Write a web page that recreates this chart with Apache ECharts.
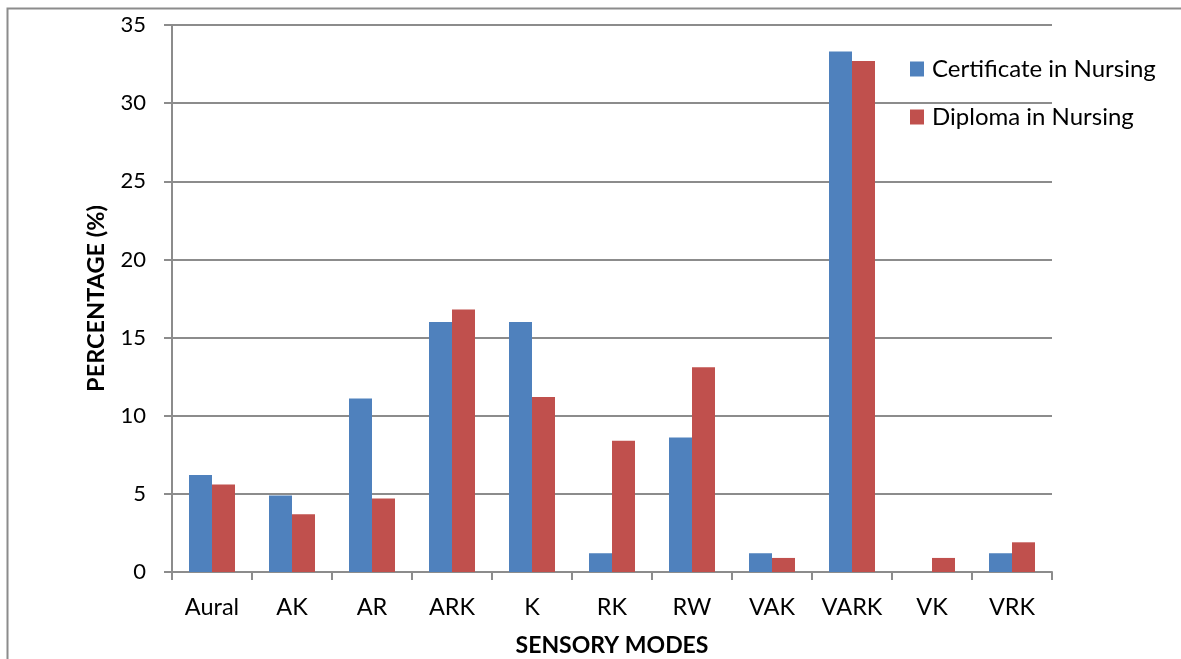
<!DOCTYPE html>
<html>
<head>
<meta charset="utf-8">
<script src="https://cdn.jsdelivr.net/npm/echarts@6/dist/echarts.min.js"></script>
<style>
  html, body { margin: 0; padding: 0; background: #fff; }
  #chart { width: 1181px; height: 659px; }
</style>
</head>
<body>
<div id="chart"></div>
<script>
// Learning-style preferences by programme
const categories = ['Aural', 'AK', 'AR', 'ARK', 'K', 'RK', 'RW', 'VAK', 'VARK', 'VK', 'VRK'];
const certificateValues = [6.2, 4.9, 11.1, 16.0, 16.0, 1.2, 8.6, 1.2, 33.3, 0, 1.2];
const diplomaValues = [5.6, 3.7, 4.7, 16.8, 11.2, 8.4, 13.1, 0.9, 32.7, 0.9, 1.9];
const seriesNames = ['Certificate in Nursing', 'Diploma in Nursing'];
const yTicks = { min: 0, max: 35, interval: 5 };

const FONT = 'Lato, "Open Sans", sans-serif';
const GRID_COLOR = '#8c8c8c';

const chart = echarts.init(document.getElementById('chart'), null, { renderer: 'canvas' });

chart.setOption({
  animation: false,
  backgroundColor: '#ffffff',
  graphic: [{
    type: 'rect',
    shape: { x: 7.5, y: 8.5, width: 1200, height: 700 },
    style: { fill: 'none', stroke: '#8c8c8c', lineWidth: 2 },
    silent: true
  }],
  grid: { left: 172, right: 129, top: 25, bottom: 87, containLabel: false, outerBoundsMode: 'none' },
  legend: {
    orient: 'vertical',
    left: 910,
    top: 57,
    padding: 0,
    itemWidth: 14,
    itemHeight: 15,
    itemGap: 24,
    icon: 'rect',
    textStyle: { fontFamily: FONT, fontSize: 24, color: '#000', padding: [0, 0, 0, 3] },
    data: seriesNames
  },
  xAxis: {
    type: 'category',
    data: categories,
    name: 'SENSORY MODES',
    nameLocation: 'middle',
    nameGap: 62,
    nameTextStyle: { fontFamily: FONT, fontSize: 23, fontWeight: 'bold', color: '#000' },
    axisLine: { lineStyle: { color: GRID_COLOR, width: 2 } },
    axisTick: { show: true, length: 8, lineStyle: { color: GRID_COLOR, width: 2 }, alignWithLabel: false },
    axisLabel: { fontFamily: FONT, fontSize: 23.5, color: '#000', margin: 23, interval: 0 },
    splitLine: { show: false }
  },
  yAxis: {
    type: 'value',
    min: yTicks.min,
    max: yTicks.max,
    interval: yTicks.interval,
    name: 'PERCENTAGE (%)',
    nameLocation: 'middle',
    nameGap: 64,
    nameRotate: 90,
    nameTextStyle: { fontFamily: FONT, fontSize: 23.5, fontWeight: 'bold', color: '#000' },
    axisLine: { show: true, lineStyle: { color: GRID_COLOR, width: 2 } },
    axisTick: { show: true, length: 8, lineStyle: { color: GRID_COLOR, width: 2 } },
    axisLabel: { fontFamily: FONT, fontSize: 22, color: '#000', margin: 26 },
    splitLine: { show: true, lineStyle: { color: GRID_COLOR, width: 2 } }
  },
  series: [
    {
      name: seriesNames[0],
      type: 'bar',
      data: certificateValues,
      barGap: '0%',
      barCategoryGap: '42.5%',
      itemStyle: { color: '#4f81bd' }
    },
    {
      name: seriesNames[1],
      type: 'bar',
      data: diplomaValues,
      barGap: '0%',
      barCategoryGap: '42.5%',
      itemStyle: { color: '#c0504d' }
    }
  ]
});
</script>
</body>
</html>
